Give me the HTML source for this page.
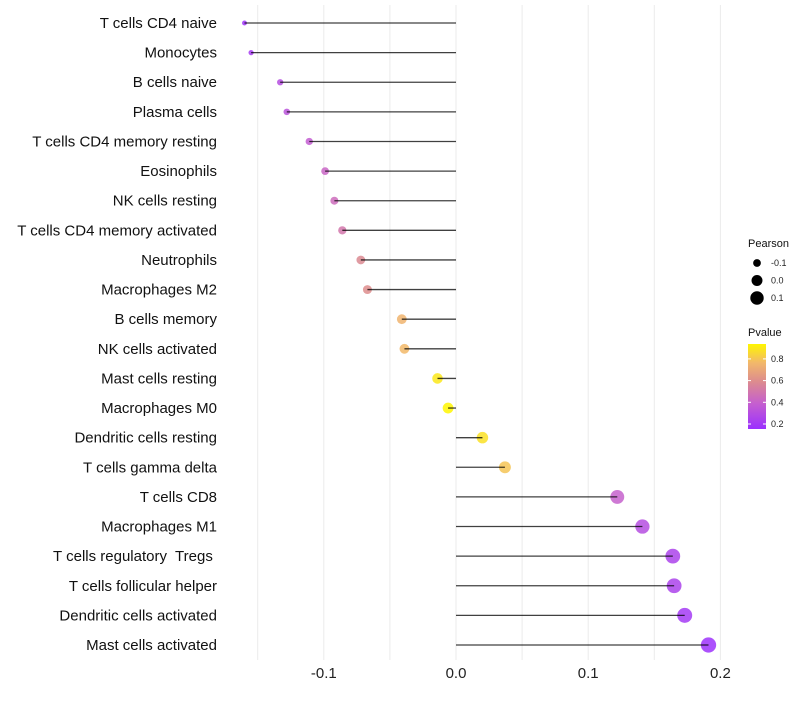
<!DOCTYPE html>
<html><head><meta charset="utf-8"><style>
body{margin:0;background:#fff;font-family:"Liberation Sans",sans-serif}
text{white-space:pre}
</style></head><body>
<svg id="c" width="800" height="700" xmlns="http://www.w3.org/2000/svg">
<defs><linearGradient id="pg" x1="0" y1="1" x2="0" y2="0">
<stop offset="0" stop-color="#9B30FF"/><stop offset="0.3" stop-color="#C55FCF"/><stop offset="0.55" stop-color="#DC8A90"/><stop offset="0.78" stop-color="#F2B86A"/><stop offset="1" stop-color="#FFF600"/></linearGradient></defs>
<g id="grid"></g><g id="marks"></g><g id="labels"></g><g id="legend"></g>
</svg>
<script>
const categories=["T cells CD4 naive","Monocytes","B cells naive","Plasma cells","T cells CD4 memory resting","Eosinophils","NK cells resting","T cells CD4 memory activated","Neutrophils","Macrophages M2","B cells memory","NK cells activated","Mast cells resting","Macrophages M0","Dendritic cells resting","T cells gamma delta","T cells CD8","Macrophages M1","T cells regulatory  Tregs ","T cells follicular helper","Dendritic cells activated","Mast cells activated"];
const pearson=[-0.160,-0.155,-0.133,-0.128,-0.111,-0.099,-0.092,-0.086,-0.072,-0.067,-0.041,-0.039,-0.014,-0.006,0.020,0.037,0.122,0.141,0.164,0.165,0.173,0.191];
const pvalue=[0.18,0.22,0.30,0.33,0.38,0.42,0.45,0.50,0.58,0.60,0.75,0.77,0.90,0.95,0.88,0.80,0.40,0.30,0.25,0.25,0.21,0.17];
const xTicks=[-0.1,0,0.1,0.2];
const xTickLabels=["-0.1","0.0","0.1","0.2"];
const NS="http://www.w3.org/2000/svg";
function el(t,a,p){const e=document.createElementNS(NS,t);for(const k in a)e.setAttribute(k,a[k]);p.appendChild(e);return e;}
const x=v=>456+v*1322;
const y=i=>23+i*(622/21);
const r=v=>Math.sqrt(Math.max(2,6+150*(v+0.16)));
const stops=[[0,[155,48,255]],[0.3,[197,95,207]],[0.55,[220,138,144]],[0.78,[242,184,106]],[1,[255,246,0]]];
function col(p){let t=(p-0.154)/(0.94-0.154);t=Math.max(0,Math.min(1,t));for(let i=1;i<stops.length;i++){if(t<=stops[i][0]){const a=stops[i-1],b=stops[i],f=(t-a[0])/(b[0]-a[0]);return "rgb("+a[1].map((c,j)=>Math.round(c+(b[1][j]-c)*f)).join(",")+")";}}return "rgb(255,246,0)";}
const grid=document.getElementById('grid'),marks=document.getElementById('marks'),labels=document.getElementById('labels'),lg=document.getElementById('legend');
for(let v=-0.15;v<=0.2001;v+=0.05){const g=el('line',{x1:x(v),x2:x(v),y1:5,y2:660,stroke:'#ebebeb','stroke-width':1},grid);}
xTicks.forEach((v,i)=>{const t=el('text',{x:x(v),y:678,'text-anchor':'middle','font-size':15,fill:'#222'},labels);t.textContent=xTickLabels[i];});
categories.forEach((c,i)=>{
const t=el('text',{x:217,y:y(i)+5,'text-anchor':'end','font-size':15,fill:'#111'},labels);t.textContent=c;

const d=el('circle',{cx:x(pearson[i]),cy:y(i),r:r(pearson[i]),fill:col(pvalue[i]),'fill-opacity':0.85},marks);

const s=el('line',{x1:x(0),x2:x(pearson[i]),y1:y(i),y2:y(i),stroke:'#000','stroke-opacity':0.75,'stroke-width':1.3},marks);

});
function txt(s,a){const t=el('text',a,lg);t.textContent=s;return t;}
let t=txt("Pearson",{x:748,y:247,'font-size':11,fill:'#111'});
[-0.1,0,0.1].forEach((v,i)=>{const cy=263+i*17.5;const c=el('circle',{cx:757,cy:cy,r:r(v),fill:'#000'},lg);
const l=txt(["-0.1","0.0","0.1"][i],{x:771,y:cy+3,'font-size':9,fill:'#222'});});
t=txt("Pvalue",{x:748,y:336,'font-size':11,fill:'#111'});
const bar=el('rect',{x:748,y:344,width:18,height:85,fill:'url(#pg)'},lg);
[0.2,0.4,0.6,0.8].forEach(v=>{const yy=424-(v-0.2)/0.2*21.7;el('line',{x1:748,x2:751,y1:yy,y2:yy,stroke:'#fff'},lg);el('line',{x1:763,x2:766,y1:yy,y2:yy,stroke:'#fff'},lg);
const l=txt(v.toFixed(1),{x:771,y:yy+3,'font-size':9,fill:'#222'});});
</script>
</body></html>
